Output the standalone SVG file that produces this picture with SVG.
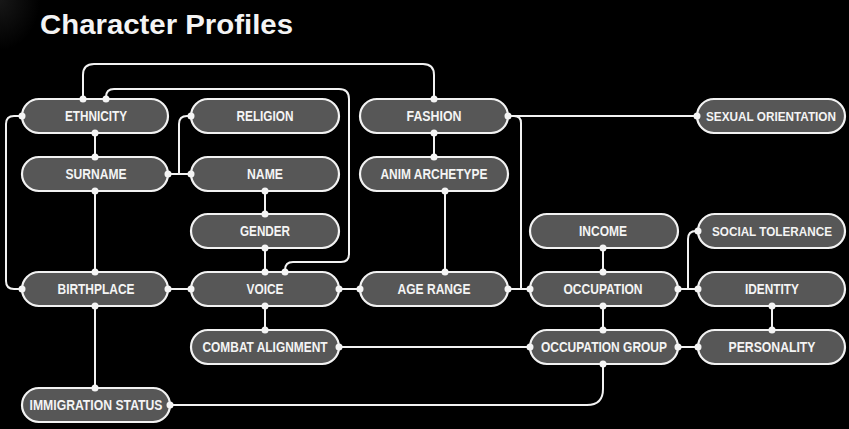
<svg xmlns="http://www.w3.org/2000/svg" width="849" height="429" viewBox="0 0 849 429">
<defs>
<style>
.n rect{fill:#575757;stroke:#f2f2f2;stroke-width:2.2}
.n text{fill:#f4f4f4;font-family:"Liberation Sans",Arial,sans-serif;font-weight:bold;font-size:14px;text-anchor:middle}
.n text.s{font-size:13px}
.c path{fill:none;stroke:#f2f2f2;stroke-width:2}
.d circle{fill:#f4f4f4}
.t{fill:#f4f4f4;font-family:"Liberation Sans",Arial,sans-serif;font-weight:bold;font-size:27px}
</style>
<radialGradient id="smudge" cx="0" cy="0" r="1">
<stop offset="0" stop-color="#3a3a3a"/>
<stop offset="1" stop-color="#000"/>
</radialGradient>
</defs>
<rect x="0" y="0" width="849" height="429" fill="#000"/>
<rect x="0" y="0" width="40" height="50" fill="url(#smudge)" opacity="0.4"/>
<text class="t" x="40" y="34" textLength="253" lengthAdjust="spacingAndGlyphs">Character Profiles</text>

<g class="c" id="connectors">
<path d="M95,133 V156"/>
<path d="M95,192 V271"/>
<path d="M95,307 V387"/>
<path d="M22,116 H14 Q6,116 6,124 V281 Q6,289 14,289 H22"/>
<path d="M168,174 H191"/>
<path d="M179,174 V124 Q179,116 187,116 H191"/>
<path d="M265,192 V213"/>
<path d="M265,249 V271"/>
<path d="M168,289 H191"/>
<path d="M265,307 V329"/>
<path d="M339,289 H360"/>
<path d="M83,99 V75 Q83,64 94,64 H423 Q434,64 434,75 V99"/>
<path d="M106,99 V97 Q106,89 114,89 H339 Q349,89 349,99 V254 Q349,262 341,262 H293 Q285,262 285,270 V271"/>
<path d="M434,133 V156"/>
<path d="M445,192 V271"/>
<path d="M508,116 H697"/>
<path d="M514,116 Q521,116 521,123 V289"/>
<path d="M508,289 H530"/>
<path d="M603,249 V271"/>
<path d="M603,307 V329"/>
<path d="M678,289 H698"/>
<path d="M688,289 V239 Q688,231 696,231 H698"/>
<path d="M772,307 V329"/>
<path d="M678,347 H698"/>
<path d="M339,347 H530"/>
<path d="M170,405 H587 Q603,405 603,389 V365"/>
</g>

<g class="n" id="ethnicity"><rect x="22" y="99" width="146" height="34" rx="17"/><text x="96" y="121" textLength="62" lengthAdjust="spacingAndGlyphs">ETHNICITY</text></g>
<g class="n" id="surname"><rect x="22" y="157" width="146" height="34" rx="17"/><text x="96" y="179" textLength="61" lengthAdjust="spacingAndGlyphs">SURNAME</text></g>
<g class="n" id="birthplace"><rect x="22" y="272" width="146" height="34" rx="17"/><text x="96" y="294" textLength="77" lengthAdjust="spacingAndGlyphs">BIRTHPLACE</text></g>
<g class="n" id="immigration-status"><rect x="22" y="388" width="148" height="34" rx="17"/><text x="96" y="410" textLength="133" lengthAdjust="spacingAndGlyphs">IMMIGRATION STATUS</text></g>

<g class="n" id="religion"><rect x="191" y="99" width="148" height="34" rx="17"/><text x="265" y="121" textLength="57" lengthAdjust="spacingAndGlyphs">RELIGION</text></g>
<g class="n" id="name"><rect x="191" y="157" width="148" height="34" rx="17"/><text x="265" y="179" textLength="36" lengthAdjust="spacingAndGlyphs">NAME</text></g>
<g class="n" id="gender"><rect x="191" y="214" width="148" height="34" rx="17"/><text x="265" y="236" textLength="50" lengthAdjust="spacingAndGlyphs">GENDER</text></g>
<g class="n" id="voice"><rect x="191" y="272" width="148" height="34" rx="17"/><text x="265" y="294" textLength="37" lengthAdjust="spacingAndGlyphs">VOICE</text></g>
<g class="n" id="combat-alignment"><rect x="191" y="330" width="148" height="34" rx="17"/><text x="265" y="352" textLength="125" lengthAdjust="spacingAndGlyphs">COMBAT ALIGNMENT</text></g>

<g class="n" id="fashion"><rect x="360" y="99" width="148" height="34" rx="17"/><text x="434" y="121" textLength="55" lengthAdjust="spacingAndGlyphs">FASHION</text></g>
<g class="n" id="anim-archetype"><rect x="360" y="157" width="148" height="34" rx="17"/><text x="434" y="179" textLength="107" lengthAdjust="spacingAndGlyphs">ANIM ARCHETYPE</text></g>
<g class="n" id="age-range"><rect x="360" y="272" width="148" height="34" rx="17"/><text x="434" y="294" textLength="73" lengthAdjust="spacingAndGlyphs">AGE RANGE</text></g>

<g class="n" id="income"><rect x="530" y="214" width="148" height="34" rx="17"/><text x="603" y="236" textLength="48" lengthAdjust="spacingAndGlyphs">INCOME</text></g>
<g class="n" id="occupation"><rect x="530" y="272" width="148" height="34" rx="17"/><text x="603" y="294" textLength="79" lengthAdjust="spacingAndGlyphs">OCCUPATION</text></g>
<g class="n" id="occupation-group"><rect x="530" y="330" width="148" height="34" rx="17"/><text x="604" y="352" textLength="126" lengthAdjust="spacingAndGlyphs">OCCUPATION GROUP</text></g>

<g class="n" id="sexual-orientation"><rect x="697" y="99" width="148" height="34" rx="17"/><text class="s" x="771" y="121" textLength="130" lengthAdjust="spacingAndGlyphs">SEXUAL ORIENTATION</text></g>
<g class="n" id="social-tolerance"><rect x="698" y="214" width="147" height="34" rx="17"/><text class="s" x="772" y="236" textLength="120" lengthAdjust="spacingAndGlyphs">SOCIAL TOLERANCE</text></g>
<g class="n" id="identity"><rect x="698" y="272" width="147" height="34" rx="17"/><text x="772" y="294" textLength="54" lengthAdjust="spacingAndGlyphs">IDENTITY</text></g>
<g class="n" id="personality"><rect x="698" y="330" width="147" height="34" rx="17"/><text x="772" y="352" textLength="87" lengthAdjust="spacingAndGlyphs">PERSONALITY</text></g>

<g class="d" id="ports">
<circle cx="22" cy="116" r="3.5"/><circle cx="83" cy="99" r="3.5"/><circle cx="106" cy="99" r="3.5"/><circle cx="95" cy="133" r="3.5"/>
<circle cx="95" cy="157" r="3.5"/><circle cx="95" cy="191" r="3.5"/><circle cx="168" cy="174" r="3.5"/>
<circle cx="191" cy="116" r="3.5"/>
<circle cx="191" cy="174" r="3.5"/><circle cx="265" cy="191" r="3.5"/>
<circle cx="265" cy="214" r="3.5"/><circle cx="265" cy="248" r="3.5"/>
<circle cx="22" cy="289" r="3.5"/><circle cx="95" cy="272" r="3.5"/><circle cx="168" cy="289" r="3.5"/><circle cx="95" cy="306" r="3.5"/>
<circle cx="191" cy="289" r="3.5"/><circle cx="265" cy="272" r="3.5"/><circle cx="285" cy="272" r="3.5"/><circle cx="339" cy="289" r="3.5"/><circle cx="265" cy="306" r="3.5"/>
<circle cx="265" cy="330" r="3.5"/><circle cx="339" cy="347" r="3.5"/>
<circle cx="95" cy="388" r="3.5"/><circle cx="170" cy="405" r="3.5"/>
<circle cx="434" cy="99" r="3.5"/><circle cx="434" cy="133" r="3.5"/><circle cx="508" cy="116" r="3.5"/>
<circle cx="434" cy="157" r="3.5"/><circle cx="445" cy="191" r="3.5"/>
<circle cx="445" cy="272" r="3.5"/><circle cx="360" cy="289" r="3.5"/><circle cx="508" cy="289" r="3.5"/>
<circle cx="697" cy="116" r="3.5"/>
<circle cx="603" cy="248" r="3.5"/>
<circle cx="603" cy="272" r="3.5"/><circle cx="530" cy="289" r="3.5"/><circle cx="678" cy="289" r="3.5"/><circle cx="603" cy="306" r="3.5"/>
<circle cx="603" cy="330" r="3.5"/><circle cx="530" cy="347" r="3.5"/><circle cx="678" cy="347" r="3.5"/><circle cx="603" cy="364" r="3.5"/>
<circle cx="698" cy="231" r="3.5"/>
<circle cx="698" cy="289" r="3.5"/><circle cx="772" cy="306" r="3.5"/>
<circle cx="772" cy="330" r="3.5"/><circle cx="698" cy="347" r="3.5"/>
</g>
</svg>
